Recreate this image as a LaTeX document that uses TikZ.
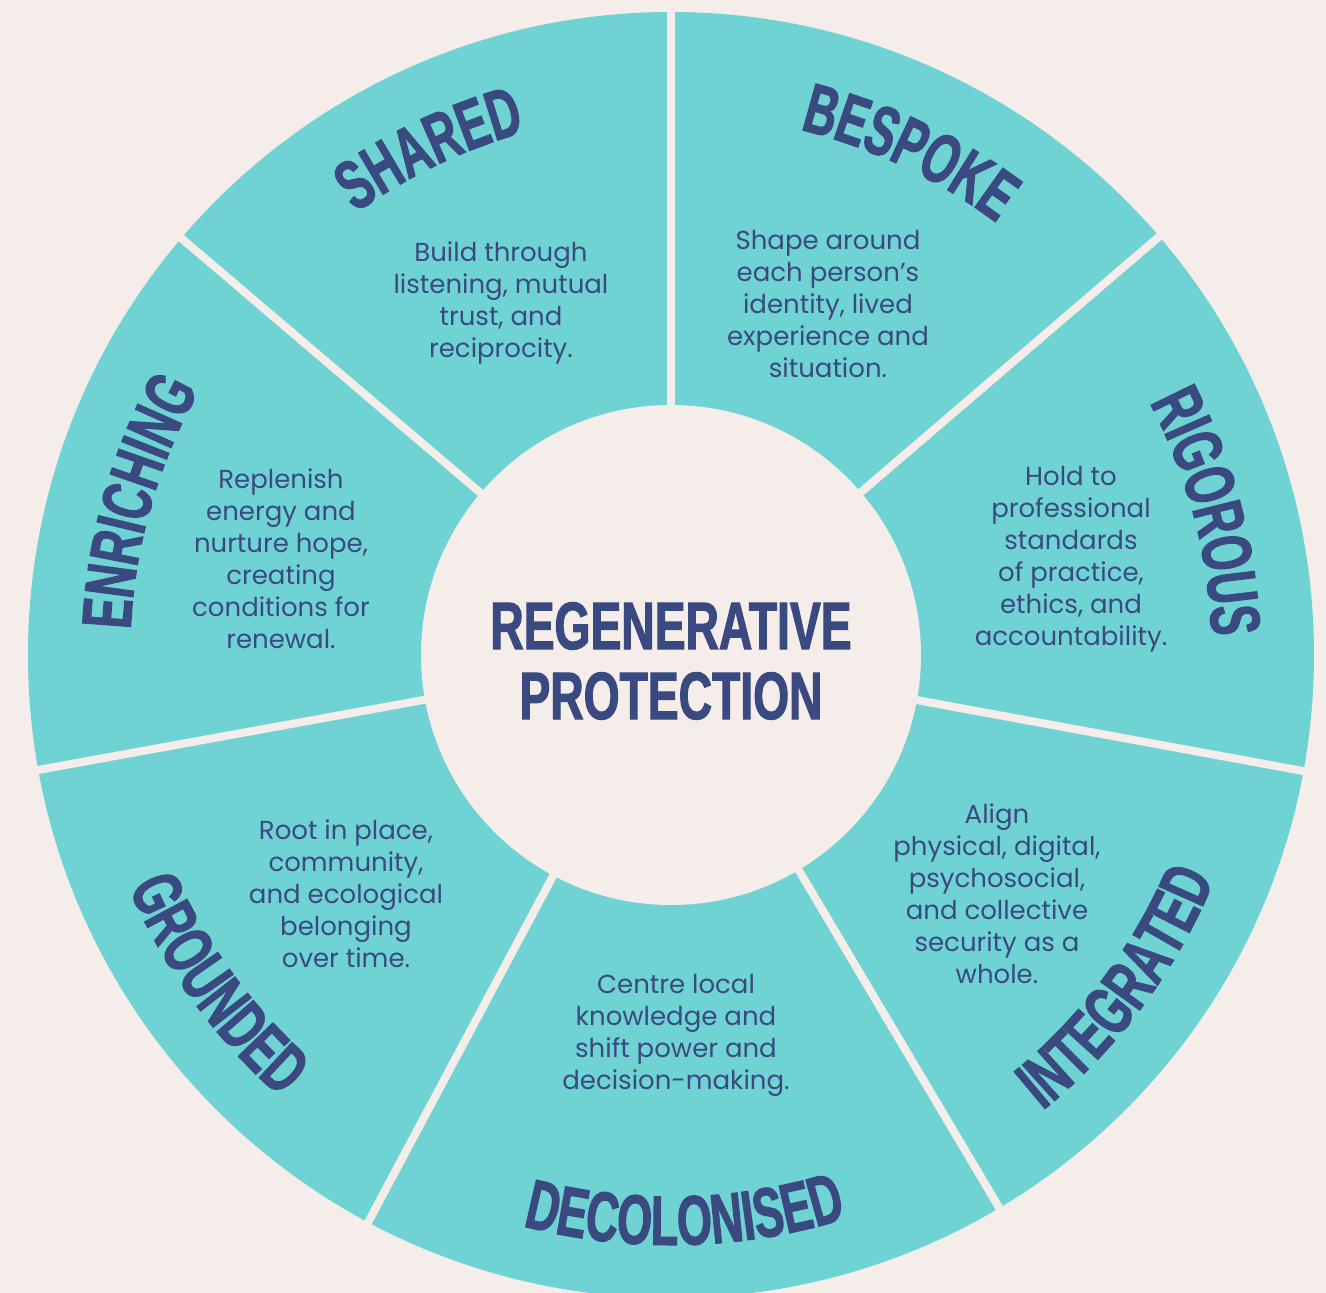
\documentclass[tikz,border=0pt]{standalone}
\usepackage{fontspec}
\setmainfont{Poppins}
\newfontfamily\titlefont{Liberation Sans Bold}[FakeStretch=0.64,FakeBold=1.6]
\newfontfamily\hubfont{Liberation Sans Bold}[FakeStretch=0.69,FakeBold=1.6]
\usetikzlibrary{decorations.text}
\definecolor{bgc}{HTML}{F4EDEA}
\definecolor{wheelc}{HTML}{6FD3D3}
\definecolor{navy}{HTML}{3A4A80}
\newcommand\toptitle[3]{\path[decorate,decoration={text along path,text align=center,
  text={|\titlefont\fontsize{70}{70}\selectfont\color{navy}|#3}}]
  (#1+40:#2) arc[start angle=#1+40,end angle=#1-40,radius=#2];}
\newcommand\bottitle[3]{\path[decorate,decoration={text along path,text align=center,
  text={|\titlefont\fontsize{70}{70}\selectfont\color{navy}|#3}}]
  (#1-40:#2) arc[start angle=#1-40,end angle=#1+40,radius=#2];}
\begin{document}
\begin{tikzpicture}[x=1pt,y=1pt,
  body/.style={text=navy, align=center, font=\fontsize{26}{32}\selectfont, inner sep=0pt},
  divider/.style={draw=bgc, line width=8pt},
  hub/.style={text=navy, align=center, font=\hubfont\fontsize{67}{70}\selectfont, inner sep=0pt}]
\fill[bgc] (-671,-638) rectangle (655,655);
\useasboundingbox (-671,-638) rectangle (655,655);
\coordinate (c) at (0,0);
\fill[wheelc] (c) circle[radius=643];
\foreach \a in {90,139.6,190.3,241.9,300.7,349.6,40.6}
  \draw[divider] (c) -- (\a:660);
\fill[bgc] (c) circle[radius=250];
\node[hub] (hub) at (0,-6) {REGENERATIVE\\PROTECTION};
% titles
\toptitle{115.5}{543}{SHARED}
\toptitle{64.6}{541}{BESPOKE}
\toptitle{14.9}{541}{RIGOROUS}
\toptitle{164}{541}{ENRICHING}
\bottitle{-36.6}{588}{INTEGRATED}
\bottitle{271.4}{590}{DECOLONISED}
\bottitle{215.9}{590}{GROUNDED}
% bodies
\node[body] (shared) at (-170,352) {Build through\\listening, mutual\\trust, and\\reciprocity.};
\node[body] (bespoke) at (157,351) {Shape around\\each person’s\\identity, lived\\experience and\\situation.};
\node[body] (rigorous) at (400,96) {Hold to\\professional\\standards\\of practice,\\ethics, and\\accountability.};
\node[body] (integrated) at (326,-239) {Align\\physical, digital,\\psychosocial,\\and collective\\security as a\\whole.};
\node[body] (decolonised) at (5,-380) {Centre local\\knowledge and\\shift power and\\decision-making.};
\node[body] (grounded) at (-325,-239) {Root in place,\\community,\\and ecological\\belonging\\over time.};
\node[body] (enriching) at (-390,96) {Replenish\\energy and\\nurture hope,\\creating\\conditions for\\renewal.};
\end{tikzpicture}
\end{document}
